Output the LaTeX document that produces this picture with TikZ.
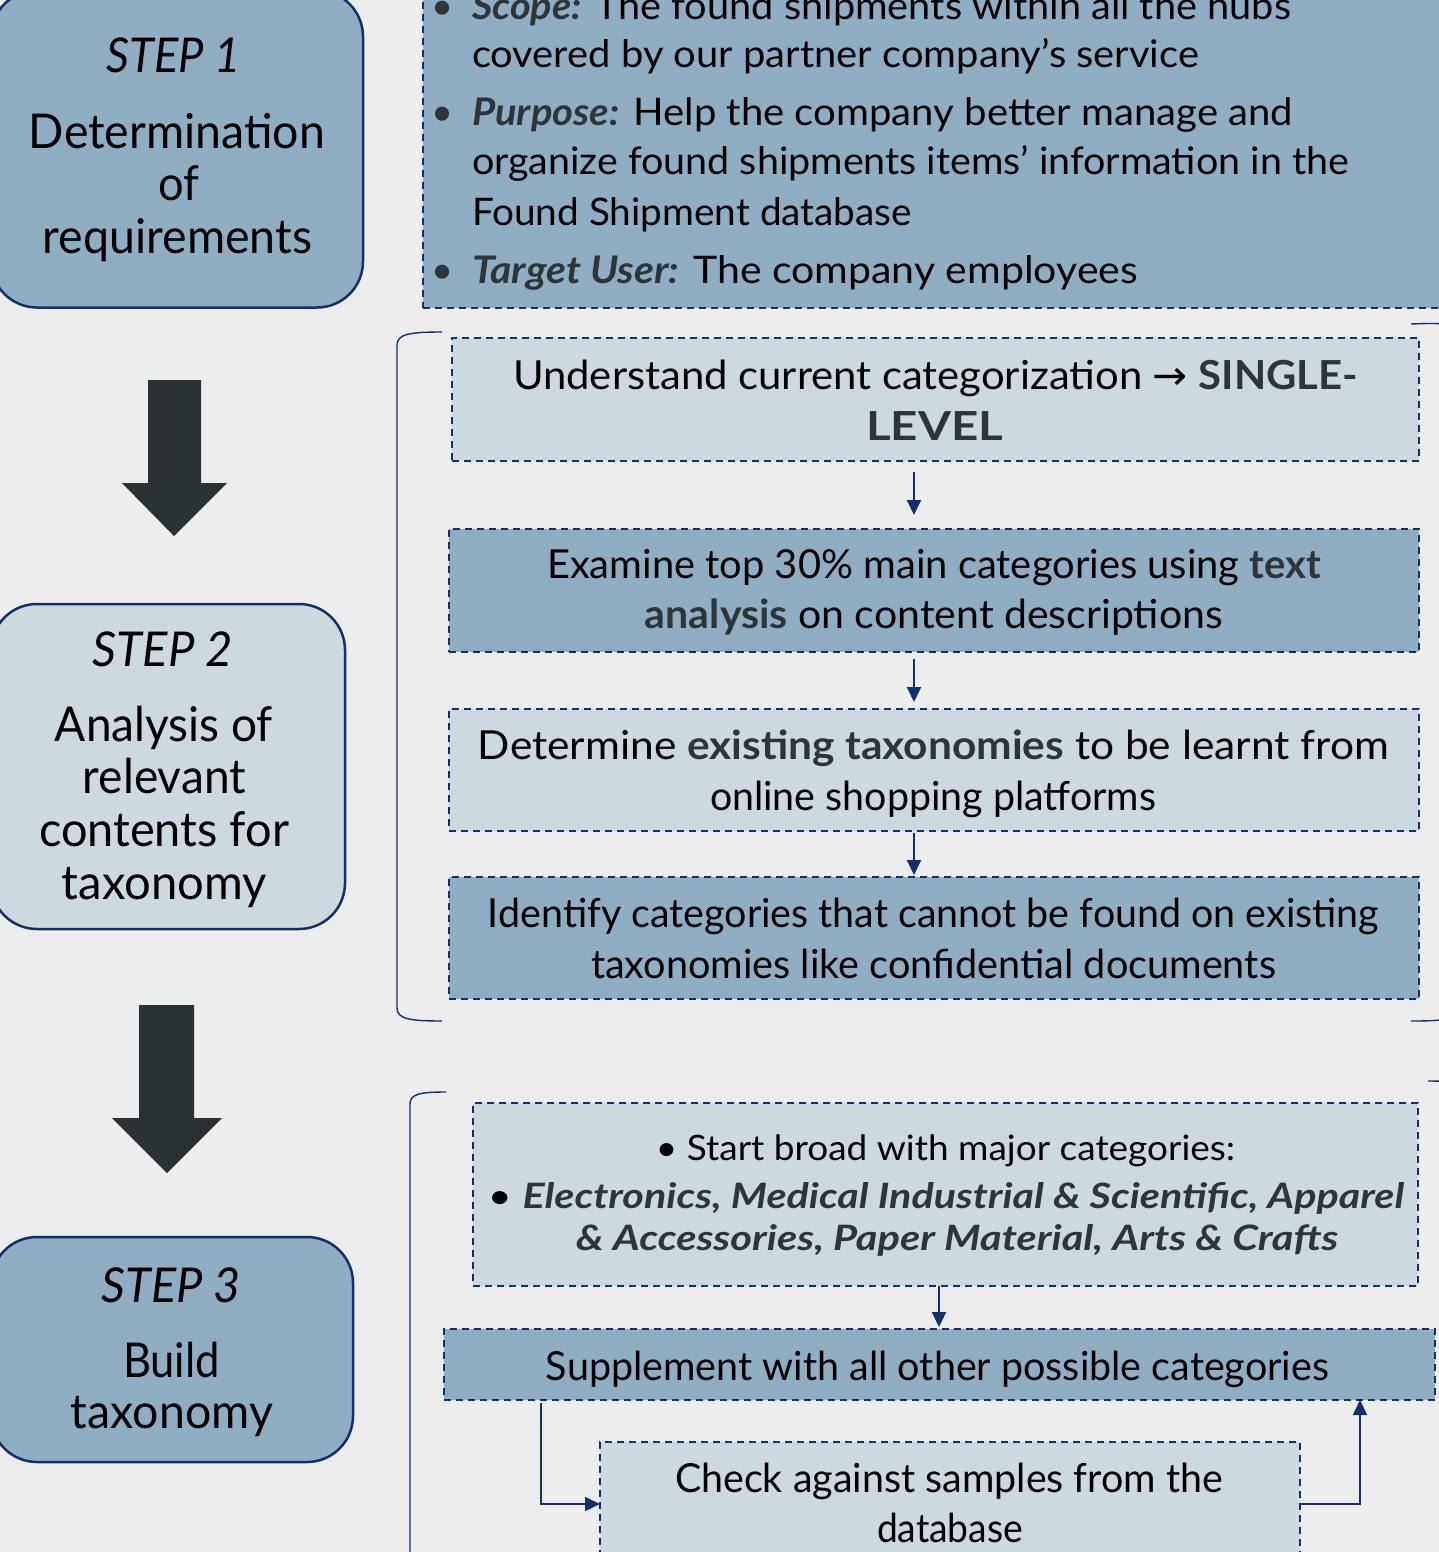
\documentclass[tikz,border=0pt]{standalone}
\usepackage{fontspec}
\setmainfont{Lato}
\newfontfamily\symfont{DejaVu Sans}
\usetikzlibrary{arrows.meta,calc}

\definecolor{bg}{HTML}{EDEDED}
\definecolor{deep}{HTML}{8FAEC4}
\definecolor{pale}{HTML}{CDD8DF}
\definecolor{navy}{HTML}{13306E}
\definecolor{slate}{HTML}{2B3234}
\definecolor{ink}{HTML}{2D3537}

% set a line to a given width (pt), keeping its height
\newcommand{\fw}[2]{\resizebox{#1pt}{\height}{#2}}
\newcommand{\kw}[1]{{\bfseries\color{ink}#1}}
\newcommand{\kwi}[1]{{\bfseries\itshape\color{ink}#1}}

\tikzset{
  stepbox/.style={draw=navy, line width=2.5pt, rounded corners=46pt, inner sep=0pt, outer sep=0pt},
  deepstep/.style={stepbox, fill=deep},
  palestep/.style={stepbox, fill=pale},
  dbox/.style={draw=navy, line width=2pt, dash pattern=on 7pt off 5pt, inner sep=0pt, outer sep=0pt},
  deepbox/.style={dbox, fill=deep},
  palebox/.style={dbox, fill=pale},
  link/.style={draw=navy, line width=2.2pt, -{Triangle[length=15pt,width=14pt]}},
  brace/.style={draw=navy, line width=1.4pt},
  blockarrow/.style={fill=slate},
  txt/.style={inner sep=0pt, outer sep=0pt, anchor=base},
  steptxt/.style={txt, font=\fontsize{48}{56}\selectfont},
  boxtxt/.style={txt, font=\fontsize{40}{48}\selectfont},
  toptxt/.style={txt, anchor=base west, font=\fontsize{38}{46}\selectfont},
  smalltxt/.style={txt, font=\fontsize{35}{42}\selectfont},
}

\begin{document}
\begin{tikzpicture}[x=1pt,y=-1pt]
\fill[bg] (0,0) rectangle (1439,1552);
\useasboundingbox (0,0) rectangle (1439,1552);
\begin{scope}
\clip (0,0) rectangle (1439,1552);

% ---------- left column: steps ----------
\node[deepstep, minimum width=372pt, minimum height=317pt] (step1) at (177,149) {};
\node[palestep, minimum width=354pt, minimum height=325pt] (step2) at (168,766.5) {};
\node[deepstep, minimum width=362pt, minimum height=225pt] (step3) at (172,1349.5) {};

\node[steptxt] (s1a) at (174,73)  {\fw{134}{\itshape STEP 1}};
\node[steptxt] (s1b) at (177,148) {\fw{296}{Determination}};
\node[steptxt] (s1c) at (178.5,200) {\fw{41}{of}};
\node[steptxt] (s1d) at (177.5,253) {\fw{269}{requirements}};

\node[steptxt] (s2a) at (163,666) {\fw{140}{\itshape STEP 2}};
\node[steptxt] (s2b) at (164,741) {\fw{218}{Analysis of}};
\node[steptxt] (s2c) at (164.5,793) {\fw{163}{relevant}};
\node[steptxt] (s2d) at (164,846) {\fw{250}{contents for}};
\node[steptxt] (s2e) at (164.5,899) {\fw{205}{taxonomy}};

\node[steptxt] (s3a) at (171.5,1302) {\fw{139}{\itshape STEP 3}};
\node[steptxt] (s3b) at (171.5,1377) {\fw{97}{Build}};
\node[steptxt] (s3c) at (172,1428) {\fw{202}{taxonomy}};

% block arrows between the steps
\fill[blockarrow] (148,380) -- (201,380) -- (201,483) -- (227,483) -- (174,536)
  -- (122,483) -- (148,483) -- cycle;
\fill[blockarrow] (139,1005) -- (194,1005) -- (194,1118) -- (222,1118) -- (167,1173)
  -- (112,1118) -- (139,1118) -- cycle;

% ---------- requirements box ----------
\node[deepbox, minimum width=1027pt, minimum height=320pt] (req) at (936.5,148) {};
\node[toptxt] (r0) at (431,20)  {\textcolor{ink}{•}};
\node[toptxt] (r1) at (472,20)  {\fw{819}{\kwi{Scope:} The found shipments within all the hubs}};
\node[toptxt] (r2) at (472,68)  {\fw{727}{covered by our partner company’s service}};
\node[toptxt] (r3) at (431,126) {\textcolor{ink}{•}};
\node[toptxt] (r4) at (472,126) {\fw{821}{\kwi{Purpose:} Help the company better manage and}};
\node[toptxt] (r5) at (472,174) {\fw{877}{organize found shipments items’ information in the}};
\node[toptxt] (r6) at (472,225) {\fw{440}{Found Shipment database}};
\node[toptxt] (r7) at (431,283) {\textcolor{ink}{•}};
\node[toptxt] (r8) at (472,283) {\fw{666}{\kwi{Target User:} The company employees}};

% ---------- step 2 details ----------
\draw[brace] (442,332) .. controls (410,332) and (397,334) .. (397,345) -- (397,1008)
  .. controls (397,1019) and (410,1021) .. (442,1021);
\draw[brace] (1411,324) .. controls (1440,323) and (1456,322) .. (1456,335) -- (1456,1010)
  .. controls (1456,1020) and (1440,1021) .. (1411,1021);

\node[palebox, minimum width=967pt, minimum height=123pt] (A) at (935.5,399.5) {};
\node[deepbox, minimum width=970pt, minimum height=123pt] (B) at (934,590.5) {};
\node[palebox, minimum width=970pt, minimum height=122pt] (C) at (934,770) {};
\node[deepbox, minimum width=970pt, minimum height=122pt] (D) at (934,938) {};

\node[boxtxt] (a1) at (935.5,389) {\fw{845}{Understand current categorization {\symfont →} \kw{SINGLE-}}};
\node[boxtxt] (a2) at (934.5,440) {\fw{137}{\kw{LEVEL}}};
\node[boxtxt] (b1) at (934,578) {\fw{774}{Examine top 30\% main categories using \kw{text}}};
\node[boxtxt] (b2) at (934,628) {\fw{578}{\kw{analysis} on content descriptions}};
\node[boxtxt] (c1t) at (933.5,759) {\fw{911}{Determine \kw{existing taxonomies} to be learnt from}};
\node[boxtxt] (c2t) at (933,810) {\fw{446}{online shopping platforms}};
\node[boxtxt] (d1) at (933.5,927) {\fw{891}{Identify categories that cannot be found on existing}};
\node[boxtxt] (d2) at (933.5,978) {\fw{685}{taxonomies like confidential documents}};

\coordinate (colA) at (914,0);
\draw[link, shorten <=11pt, shorten >=14pt] (A.south -| colA) -- (B.north -| colA);
\draw[link, shorten <=7pt, shorten >=7pt] (B.south -| colA) -- (C.north -| colA);
\draw[link, shorten <=2pt, shorten >=2pt] (C.south -| colA) -- (D.north -| colA);

% ---------- step 3 details ----------
\draw[brace] (446,1092) .. controls (420,1092) and (410,1094) .. (410,1104) -- (410,1600);
\draw[brace] (1428,1081) .. controls (1450,1081) and (1460,1082) .. (1460,1095) -- (1460,1600);

\node[palebox, minimum width=945pt, minimum height=183pt] (E) at (945.5,1194.5) {};
\node[deepbox, minimum width=991pt, minimum height=71pt] (F) at (939.5,1364.5) {};
\node[palebox, minimum width=700pt, minimum height=124pt] (G) at (950,1504) {};

\node[smalltxt] (e1) at (945.5,1160) {\fw{579}{• Start broad with major categories:}};
\node[smalltxt] (e2) at (946,1208) {\fw{916}{• \kwi{Electronics, Medical Industrial \& Scientific, Apparel}}};
\node[smalltxt] (e3) at (957,1250) {\fw{762}{\kwi{\& Accessories, Paper Material, Arts \& Crafts}}};
\node[boxtxt] (f1) at (937.5,1380) {\fw{783}{Supplement with all other possible categories}};
\node[boxtxt] (g1) at (949,1492) {\fw{548}{Check against samples from the}};
\node[boxtxt] (g2) at (950,1542) {\fw{146}{database}};

\coordinate (colE) at (939,0);
\coordinate (colL) at (541,0);
\coordinate (colR) at (1360,0);
\draw[link, shorten >=2pt] (E.south -| colE) -- (F.north -| colE);
\draw[link, shorten <=3pt] (F.south -| colL) |- (G.west);
\draw[link] (G.east) -| (F.south -| colR);
\end{scope}
\end{tikzpicture}
\end{document}
